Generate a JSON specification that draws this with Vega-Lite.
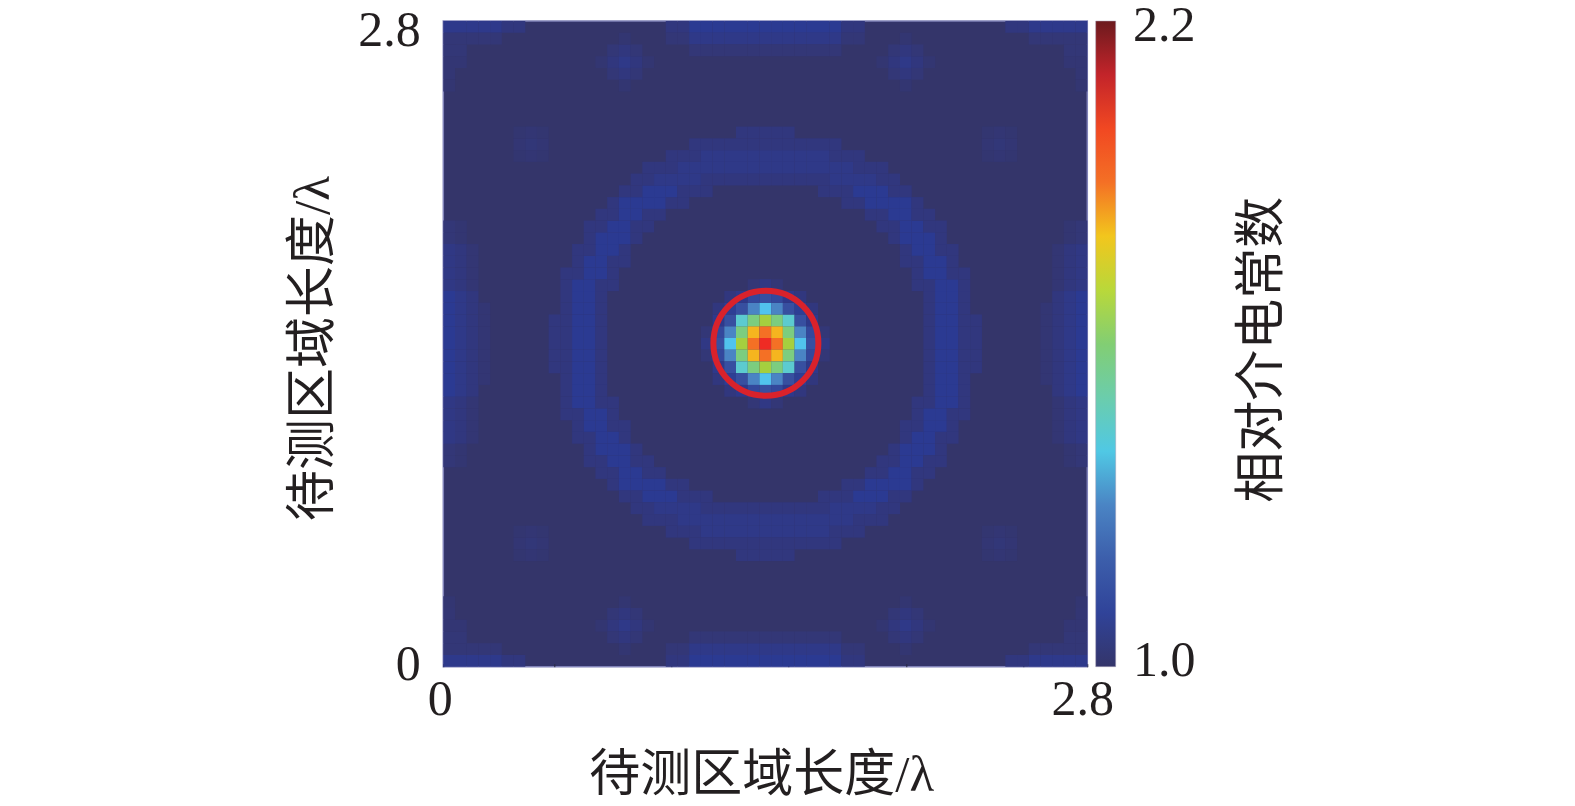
{"$schema":"https://vega.github.io/schema/vega-lite/v6.json","width":644,"height":645.7,"autosize":"none","padding":{"left":443.3,"top":21,"right":487.7,"bottom":139.3},"background":"white","view":{"fill":"#34356a","stroke":"#8082b8","strokeWidth":1.5},
"layer":[
{"data":{"values":[
{"c":9,"r":27,"v":1.03},{"c":10,"r":27,"v":1.03},{"c":11,"r":27,"v":1.06},{"c":12,"r":27,"v":1.06},{"c":13,"r":27,"v":1.03},{"c":41,"r":27,"v":1.03},{"c":42,"r":27,"v":1.06},{"c":43,"r":27,"v":1.06},{"c":44,"r":27,"v":1.03},{"c":45,"r":27,"v":1.03},
{"c":9,"r":26,"v":1.03},{"c":10,"r":26,"v":1.03},{"c":11,"r":26,"v":1.06},{"c":12,"r":26,"v":1.06},{"c":13,"r":26,"v":1.03},{"c":41,"r":26,"v":1.03},{"c":42,"r":26,"v":1.06},{"c":43,"r":26,"v":1.06},{"c":44,"r":26,"v":1.03},{"c":45,"r":26,"v":1.03},
{"c":9,"r":28,"v":1.03},{"c":10,"r":28,"v":1.03},{"c":11,"r":28,"v":1.06},{"c":12,"r":28,"v":1.06},{"c":13,"r":28,"v":1.03},{"c":41,"r":28,"v":1.03},{"c":42,"r":28,"v":1.06},{"c":43,"r":28,"v":1.06},{"c":44,"r":28,"v":1.03},{"c":45,"r":28,"v":1.03},
{"c":9,"r":25,"v":1.03},{"c":10,"r":25,"v":1.03},{"c":11,"r":25,"v":1.06},{"c":12,"r":25,"v":1.06},{"c":13,"r":25,"v":1.03},{"c":41,"r":25,"v":1.03},{"c":42,"r":25,"v":1.06},{"c":43,"r":25,"v":1.06},{"c":44,"r":25,"v":1.03},{"c":45,"r":25,"v":1.03},
{"c":9,"r":29,"v":1.03},{"c":10,"r":29,"v":1.03},{"c":11,"r":29,"v":1.06},{"c":12,"r":29,"v":1.06},{"c":13,"r":29,"v":1.03},{"c":41,"r":29,"v":1.03},{"c":42,"r":29,"v":1.06},{"c":43,"r":29,"v":1.06},{"c":44,"r":29,"v":1.03},{"c":45,"r":29,"v":1.03},
{"c":10,"r":24,"v":1.03},{"c":11,"r":24,"v":1.06},{"c":12,"r":24,"v":1.06},{"c":13,"r":24,"v":1.03},{"c":41,"r":24,"v":1.03},{"c":42,"r":24,"v":1.06},{"c":43,"r":24,"v":1.06},{"c":44,"r":24,"v":1.03},
{"c":10,"r":30,"v":1.03},{"c":11,"r":30,"v":1.06},{"c":12,"r":30,"v":1.06},{"c":13,"r":30,"v":1.03},{"c":41,"r":30,"v":1.03},{"c":42,"r":30,"v":1.06},{"c":43,"r":30,"v":1.06},{"c":44,"r":30,"v":1.03},
{"c":10,"r":23,"v":1.03},{"c":11,"r":23,"v":1.06},{"c":12,"r":23,"v":1.06},{"c":13,"r":23,"v":1.03},{"c":41,"r":23,"v":1.03},{"c":42,"r":23,"v":1.06},{"c":43,"r":23,"v":1.06},{"c":44,"r":23,"v":1.03},
{"c":10,"r":31,"v":1.03},{"c":11,"r":31,"v":1.06},{"c":12,"r":31,"v":1.06},{"c":13,"r":31,"v":1.03},{"c":41,"r":31,"v":1.03},{"c":42,"r":31,"v":1.06},{"c":43,"r":31,"v":1.06},{"c":44,"r":31,"v":1.03},
{"c":10,"r":22,"v":1.03},{"c":11,"r":22,"v":1.06},{"c":12,"r":22,"v":1.06},{"c":13,"r":22,"v":1.03},{"c":14,"r":22,"v":1.03},{"c":40,"r":22,"v":1.03},{"c":41,"r":22,"v":1.03},{"c":42,"r":22,"v":1.06},{"c":43,"r":22,"v":1.06},{"c":44,"r":22,"v":1.03},
{"c":10,"r":32,"v":1.03},{"c":11,"r":32,"v":1.06},{"c":12,"r":32,"v":1.06},{"c":13,"r":32,"v":1.03},{"c":14,"r":32,"v":1.03},{"c":40,"r":32,"v":1.03},{"c":41,"r":32,"v":1.03},{"c":42,"r":32,"v":1.06},{"c":43,"r":32,"v":1.06},{"c":44,"r":32,"v":1.03},
{"c":10,"r":21,"v":1.03},{"c":11,"r":21,"v":1.03},{"c":12,"r":21,"v":1.06},{"c":13,"r":21,"v":1.06},{"c":14,"r":21,"v":1.03},{"c":40,"r":21,"v":1.03},{"c":41,"r":21,"v":1.06},{"c":42,"r":21,"v":1.06},{"c":43,"r":21,"v":1.03},{"c":44,"r":21,"v":1.03},
{"c":10,"r":33,"v":1.03},{"c":11,"r":33,"v":1.03},{"c":12,"r":33,"v":1.06},{"c":13,"r":33,"v":1.06},{"c":14,"r":33,"v":1.03},{"c":40,"r":33,"v":1.03},{"c":41,"r":33,"v":1.06},{"c":42,"r":33,"v":1.06},{"c":43,"r":33,"v":1.03},{"c":44,"r":33,"v":1.03},
{"c":11,"r":20,"v":1.03},{"c":12,"r":20,"v":1.06},{"c":13,"r":20,"v":1.06},{"c":14,"r":20,"v":1.03},{"c":15,"r":20,"v":1.03},{"c":39,"r":20,"v":1.03},{"c":40,"r":20,"v":1.03},{"c":41,"r":20,"v":1.06},{"c":42,"r":20,"v":1.06},{"c":43,"r":20,"v":1.03},
{"c":11,"r":34,"v":1.03},{"c":12,"r":34,"v":1.06},{"c":13,"r":34,"v":1.06},{"c":14,"r":34,"v":1.03},{"c":15,"r":34,"v":1.03},{"c":39,"r":34,"v":1.03},{"c":40,"r":34,"v":1.03},{"c":41,"r":34,"v":1.06},{"c":42,"r":34,"v":1.06},{"c":43,"r":34,"v":1.03},
{"c":11,"r":19,"v":1.03},{"c":12,"r":19,"v":1.03},{"c":13,"r":19,"v":1.06},{"c":14,"r":19,"v":1.06},{"c":15,"r":19,"v":1.03},{"c":39,"r":19,"v":1.03},{"c":40,"r":19,"v":1.06},{"c":41,"r":19,"v":1.06},{"c":42,"r":19,"v":1.03},{"c":43,"r":19,"v":1.03},
{"c":11,"r":35,"v":1.03},{"c":12,"r":35,"v":1.03},{"c":13,"r":35,"v":1.06},{"c":14,"r":35,"v":1.06},{"c":15,"r":35,"v":1.03},{"c":39,"r":35,"v":1.03},{"c":40,"r":35,"v":1.06},{"c":41,"r":35,"v":1.06},{"c":42,"r":35,"v":1.03},{"c":43,"r":35,"v":1.03},
{"c":12,"r":18,"v":1.03},{"c":13,"r":18,"v":1.06},{"c":14,"r":18,"v":1.06},{"c":15,"r":18,"v":1.06},{"c":16,"r":18,"v":1.03},{"c":38,"r":18,"v":1.03},{"c":39,"r":18,"v":1.06},{"c":40,"r":18,"v":1.06},{"c":41,"r":18,"v":1.06},{"c":42,"r":18,"v":1.03},
{"c":12,"r":36,"v":1.03},{"c":13,"r":36,"v":1.06},{"c":14,"r":36,"v":1.06},{"c":15,"r":36,"v":1.06},{"c":16,"r":36,"v":1.03},{"c":38,"r":36,"v":1.03},{"c":39,"r":36,"v":1.06},{"c":40,"r":36,"v":1.06},{"c":41,"r":36,"v":1.06},{"c":42,"r":36,"v":1.03},
{"c":12,"r":17,"v":1.03},{"c":13,"r":17,"v":1.03},{"c":14,"r":17,"v":1.06},{"c":15,"r":17,"v":1.06},{"c":16,"r":17,"v":1.03},{"c":17,"r":17,"v":1.03},{"c":37,"r":17,"v":1.03},{"c":38,"r":17,"v":1.03},{"c":39,"r":17,"v":1.06},{"c":40,"r":17,"v":1.06},{"c":41,"r":17,"v":1.03},{"c":42,"r":17,"v":1.03},
{"c":12,"r":37,"v":1.03},{"c":13,"r":37,"v":1.03},{"c":14,"r":37,"v":1.06},{"c":15,"r":37,"v":1.06},{"c":16,"r":37,"v":1.03},{"c":17,"r":37,"v":1.03},{"c":37,"r":37,"v":1.03},{"c":38,"r":37,"v":1.03},{"c":39,"r":37,"v":1.06},{"c":40,"r":37,"v":1.06},{"c":41,"r":37,"v":1.03},{"c":42,"r":37,"v":1.03},
{"c":13,"r":16,"v":1.03},{"c":14,"r":16,"v":1.03},{"c":15,"r":16,"v":1.06},{"c":16,"r":16,"v":1.06},{"c":17,"r":16,"v":1.03},{"c":18,"r":16,"v":1.03},{"c":36,"r":16,"v":1.03},{"c":37,"r":16,"v":1.03},{"c":38,"r":16,"v":1.06},{"c":39,"r":16,"v":1.06},{"c":40,"r":16,"v":1.03},{"c":41,"r":16,"v":1.03},
{"c":13,"r":38,"v":1.03},{"c":14,"r":38,"v":1.03},{"c":15,"r":38,"v":1.06},{"c":16,"r":38,"v":1.06},{"c":17,"r":38,"v":1.03},{"c":18,"r":38,"v":1.03},{"c":36,"r":38,"v":1.03},{"c":37,"r":38,"v":1.03},{"c":38,"r":38,"v":1.06},{"c":39,"r":38,"v":1.06},{"c":40,"r":38,"v":1.03},{"c":41,"r":38,"v":1.03},
{"c":14,"r":15,"v":1.03},{"c":15,"r":15,"v":1.06},{"c":16,"r":15,"v":1.06},{"c":17,"r":15,"v":1.06},{"c":18,"r":15,"v":1.06},{"c":19,"r":15,"v":1.03},{"c":20,"r":15,"v":1.03},{"c":34,"r":15,"v":1.03},{"c":35,"r":15,"v":1.03},{"c":36,"r":15,"v":1.06},{"c":37,"r":15,"v":1.06},{"c":38,"r":15,"v":1.06},{"c":39,"r":15,"v":1.06},{"c":40,"r":15,"v":1.03},
{"c":14,"r":39,"v":1.03},{"c":15,"r":39,"v":1.06},{"c":16,"r":39,"v":1.06},{"c":17,"r":39,"v":1.06},{"c":18,"r":39,"v":1.06},{"c":19,"r":39,"v":1.03},{"c":20,"r":39,"v":1.03},{"c":34,"r":39,"v":1.03},{"c":35,"r":39,"v":1.03},{"c":36,"r":39,"v":1.06},{"c":37,"r":39,"v":1.06},{"c":38,"r":39,"v":1.06},{"c":39,"r":39,"v":1.06},{"c":40,"r":39,"v":1.03},
{"c":15,"r":14,"v":1.03},{"c":16,"r":14,"v":1.03},{"c":17,"r":14,"v":1.06},{"c":18,"r":14,"v":1.06},{"c":19,"r":14,"v":1.06},{"c":20,"r":14,"v":1.03},{"c":21,"r":14,"v":1.03},{"c":22,"r":14,"v":1.03},{"c":32,"r":14,"v":1.03},{"c":33,"r":14,"v":1.03},{"c":34,"r":14,"v":1.03},{"c":35,"r":14,"v":1.06},{"c":36,"r":14,"v":1.06},{"c":37,"r":14,"v":1.06},{"c":38,"r":14,"v":1.03},{"c":39,"r":14,"v":1.03},
{"c":15,"r":40,"v":1.03},{"c":16,"r":40,"v":1.03},{"c":17,"r":40,"v":1.06},{"c":18,"r":40,"v":1.06},{"c":19,"r":40,"v":1.06},{"c":20,"r":40,"v":1.03},{"c":21,"r":40,"v":1.03},{"c":22,"r":40,"v":1.03},{"c":32,"r":40,"v":1.03},{"c":33,"r":40,"v":1.03},{"c":34,"r":40,"v":1.03},{"c":35,"r":40,"v":1.06},{"c":36,"r":40,"v":1.06},{"c":37,"r":40,"v":1.06},{"c":38,"r":40,"v":1.03},{"c":39,"r":40,"v":1.03},
{"c":16,"r":13,"v":1.03},{"c":17,"r":13,"v":1.03},{"c":18,"r":13,"v":1.045},{"c":19,"r":13,"v":1.045},{"c":20,"r":13,"v":1.045},{"c":21,"r":13,"v":1.045},{"c":22,"r":13,"v":1.03},{"c":23,"r":13,"v":1.03},{"c":24,"r":13,"v":1.03},{"c":25,"r":13,"v":1.03},{"c":26,"r":13,"v":1.03},{"c":27,"r":13,"v":1.03},{"c":28,"r":13,"v":1.03},{"c":29,"r":13,"v":1.03},{"c":30,"r":13,"v":1.03},{"c":31,"r":13,"v":1.03},{"c":32,"r":13,"v":1.03},{"c":33,"r":13,"v":1.045},{"c":34,"r":13,"v":1.045},{"c":35,"r":13,"v":1.045},{"c":36,"r":13,"v":1.045},{"c":37,"r":13,"v":1.03},{"c":38,"r":13,"v":1.03},
{"c":16,"r":41,"v":1.03},{"c":17,"r":41,"v":1.03},{"c":18,"r":41,"v":1.045},{"c":19,"r":41,"v":1.045},{"c":20,"r":41,"v":1.045},{"c":21,"r":41,"v":1.045},{"c":22,"r":41,"v":1.03},{"c":23,"r":41,"v":1.03},{"c":24,"r":41,"v":1.03},{"c":25,"r":41,"v":1.03},{"c":26,"r":41,"v":1.03},{"c":27,"r":41,"v":1.03},{"c":28,"r":41,"v":1.03},{"c":29,"r":41,"v":1.03},{"c":30,"r":41,"v":1.03},{"c":31,"r":41,"v":1.03},{"c":32,"r":41,"v":1.03},{"c":33,"r":41,"v":1.045},{"c":34,"r":41,"v":1.045},{"c":35,"r":41,"v":1.045},{"c":36,"r":41,"v":1.045},{"c":37,"r":41,"v":1.03},{"c":38,"r":41,"v":1.03},
{"c":17,"r":12,"v":1.03},{"c":18,"r":12,"v":1.03},{"c":19,"r":12,"v":1.03},{"c":20,"r":12,"v":1.045},{"c":21,"r":12,"v":1.045},{"c":22,"r":12,"v":1.045},{"c":23,"r":12,"v":1.045},{"c":24,"r":12,"v":1.045},{"c":25,"r":12,"v":1.045},{"c":26,"r":12,"v":1.045},{"c":27,"r":12,"v":1.045},{"c":28,"r":12,"v":1.045},{"c":29,"r":12,"v":1.045},{"c":30,"r":12,"v":1.045},{"c":31,"r":12,"v":1.045},{"c":32,"r":12,"v":1.045},{"c":33,"r":12,"v":1.045},{"c":34,"r":12,"v":1.045},{"c":35,"r":12,"v":1.03},{"c":36,"r":12,"v":1.03},{"c":37,"r":12,"v":1.03},
{"c":17,"r":42,"v":1.03},{"c":18,"r":42,"v":1.03},{"c":19,"r":42,"v":1.03},{"c":20,"r":42,"v":1.045},{"c":21,"r":42,"v":1.045},{"c":22,"r":42,"v":1.045},{"c":23,"r":42,"v":1.045},{"c":24,"r":42,"v":1.045},{"c":25,"r":42,"v":1.045},{"c":26,"r":42,"v":1.045},{"c":27,"r":42,"v":1.045},{"c":28,"r":42,"v":1.045},{"c":29,"r":42,"v":1.045},{"c":30,"r":42,"v":1.045},{"c":31,"r":42,"v":1.045},{"c":32,"r":42,"v":1.045},{"c":33,"r":42,"v":1.045},{"c":34,"r":42,"v":1.045},{"c":35,"r":42,"v":1.03},{"c":36,"r":42,"v":1.03},{"c":37,"r":42,"v":1.03},
{"c":19,"r":11,"v":1.03},{"c":20,"r":11,"v":1.03},{"c":21,"r":11,"v":1.03},{"c":22,"r":11,"v":1.045},{"c":23,"r":11,"v":1.045},{"c":24,"r":11,"v":1.045},{"c":25,"r":11,"v":1.045},{"c":26,"r":11,"v":1.045},{"c":27,"r":11,"v":1.045},{"c":28,"r":11,"v":1.045},{"c":29,"r":11,"v":1.045},{"c":30,"r":11,"v":1.045},{"c":31,"r":11,"v":1.045},{"c":32,"r":11,"v":1.045},{"c":33,"r":11,"v":1.03},{"c":34,"r":11,"v":1.03},{"c":35,"r":11,"v":1.03},
{"c":19,"r":43,"v":1.03},{"c":20,"r":43,"v":1.03},{"c":21,"r":43,"v":1.03},{"c":22,"r":43,"v":1.045},{"c":23,"r":43,"v":1.045},{"c":24,"r":43,"v":1.045},{"c":25,"r":43,"v":1.045},{"c":26,"r":43,"v":1.045},{"c":27,"r":43,"v":1.045},{"c":28,"r":43,"v":1.045},{"c":29,"r":43,"v":1.045},{"c":30,"r":43,"v":1.045},{"c":31,"r":43,"v":1.045},{"c":32,"r":43,"v":1.045},{"c":33,"r":43,"v":1.03},{"c":34,"r":43,"v":1.03},{"c":35,"r":43,"v":1.03},
{"c":21,"r":10,"v":1.03},{"c":22,"r":10,"v":1.03},{"c":23,"r":10,"v":1.03},{"c":24,"r":10,"v":1.03},{"c":25,"r":10,"v":1.03},{"c":26,"r":10,"v":1.03},{"c":27,"r":10,"v":1.03},{"c":28,"r":10,"v":1.03},{"c":29,"r":10,"v":1.03},{"c":30,"r":10,"v":1.03},{"c":31,"r":10,"v":1.03},{"c":32,"r":10,"v":1.03},{"c":33,"r":10,"v":1.03},
{"c":21,"r":44,"v":1.03},{"c":22,"r":44,"v":1.03},{"c":23,"r":44,"v":1.03},{"c":24,"r":44,"v":1.03},{"c":25,"r":44,"v":1.03},{"c":26,"r":44,"v":1.03},{"c":27,"r":44,"v":1.03},{"c":28,"r":44,"v":1.03},{"c":29,"r":44,"v":1.03},{"c":30,"r":44,"v":1.03},{"c":31,"r":44,"v":1.03},{"c":32,"r":44,"v":1.03},{"c":33,"r":44,"v":1.03},
{"c":25,"r":9,"v":1.03},{"c":26,"r":9,"v":1.03},{"c":27,"r":9,"v":1.03},{"c":28,"r":9,"v":1.03},{"c":29,"r":9,"v":1.03},
{"c":25,"r":45,"v":1.03},{"c":26,"r":45,"v":1.03},{"c":27,"r":45,"v":1.03},{"c":28,"r":45,"v":1.03},{"c":29,"r":45,"v":1.03},
{"c":19,"r":54,"v":1.03},{"c":20,"r":54,"v":1.03},{"c":21,"r":54,"v":1.06},{"c":22,"r":54,"v":1.06},{"c":23,"r":54,"v":1.06},{"c":24,"r":54,"v":1.06},{"c":25,"r":54,"v":1.06},{"c":26,"r":54,"v":1.06},{"c":27,"r":54,"v":1.06},{"c":28,"r":54,"v":1.06},{"c":29,"r":54,"v":1.06},{"c":30,"r":54,"v":1.06},{"c":31,"r":54,"v":1.06},{"c":32,"r":54,"v":1.06},{"c":33,"r":54,"v":1.06},{"c":34,"r":54,"v":1.03},{"c":35,"r":54,"v":1.03},
{"c":19,"r":53,"v":1.02},{"c":20,"r":53,"v":1.02},{"c":21,"r":53,"v":1.045},{"c":22,"r":53,"v":1.045},{"c":23,"r":53,"v":1.045},{"c":24,"r":53,"v":1.045},{"c":25,"r":53,"v":1.045},{"c":26,"r":53,"v":1.045},{"c":27,"r":53,"v":1.045},{"c":28,"r":53,"v":1.045},{"c":29,"r":53,"v":1.045},{"c":30,"r":53,"v":1.045},{"c":31,"r":53,"v":1.045},{"c":32,"r":53,"v":1.045},{"c":33,"r":53,"v":1.045},{"c":34,"r":53,"v":1.02},{"c":35,"r":53,"v":1.02},
{"c":21,"r":52,"v":1.02},{"c":22,"r":52,"v":1.02},{"c":23,"r":52,"v":1.02},{"c":24,"r":52,"v":1.02},{"c":25,"r":52,"v":1.02},{"c":26,"r":52,"v":1.02},{"c":27,"r":52,"v":1.02},{"c":28,"r":52,"v":1.02},{"c":29,"r":52,"v":1.02},{"c":30,"r":52,"v":1.02},{"c":31,"r":52,"v":1.02},{"c":32,"r":52,"v":1.02},{"c":33,"r":52,"v":1.02},
{"c":19,"r":0,"v":1.03},{"c":20,"r":0,"v":1.03},{"c":21,"r":0,"v":1.06},{"c":22,"r":0,"v":1.06},{"c":23,"r":0,"v":1.06},{"c":24,"r":0,"v":1.06},{"c":25,"r":0,"v":1.06},{"c":26,"r":0,"v":1.06},{"c":27,"r":0,"v":1.06},{"c":28,"r":0,"v":1.06},{"c":29,"r":0,"v":1.06},{"c":30,"r":0,"v":1.06},{"c":31,"r":0,"v":1.06},{"c":32,"r":0,"v":1.06},{"c":33,"r":0,"v":1.06},{"c":34,"r":0,"v":1.03},{"c":35,"r":0,"v":1.03},
{"c":19,"r":1,"v":1.02},{"c":20,"r":1,"v":1.02},{"c":21,"r":1,"v":1.045},{"c":22,"r":1,"v":1.045},{"c":23,"r":1,"v":1.045},{"c":24,"r":1,"v":1.045},{"c":25,"r":1,"v":1.045},{"c":26,"r":1,"v":1.045},{"c":27,"r":1,"v":1.045},{"c":28,"r":1,"v":1.045},{"c":29,"r":1,"v":1.045},{"c":30,"r":1,"v":1.045},{"c":31,"r":1,"v":1.045},{"c":32,"r":1,"v":1.045},{"c":33,"r":1,"v":1.045},{"c":34,"r":1,"v":1.02},{"c":35,"r":1,"v":1.02},
{"c":21,"r":2,"v":1.02},{"c":22,"r":2,"v":1.02},{"c":23,"r":2,"v":1.02},{"c":24,"r":2,"v":1.02},{"c":25,"r":2,"v":1.02},{"c":26,"r":2,"v":1.02},{"c":27,"r":2,"v":1.02},{"c":28,"r":2,"v":1.02},{"c":29,"r":2,"v":1.02},{"c":30,"r":2,"v":1.02},{"c":31,"r":2,"v":1.02},{"c":32,"r":2,"v":1.02},{"c":33,"r":2,"v":1.02},
{"c":0,"r":17,"v":1.02},{"c":0,"r":18,"v":1.02},{"c":0,"r":19,"v":1.04},{"c":0,"r":20,"v":1.04},{"c":0,"r":21,"v":1.04},{"c":0,"r":22,"v":1.04},{"c":0,"r":23,"v":1.06},{"c":0,"r":24,"v":1.06},{"c":0,"r":25,"v":1.06},{"c":0,"r":26,"v":1.06},{"c":0,"r":27,"v":1.06},{"c":0,"r":28,"v":1.06},{"c":0,"r":29,"v":1.06},{"c":0,"r":30,"v":1.06},{"c":0,"r":31,"v":1.06},{"c":0,"r":32,"v":1.04},{"c":0,"r":33,"v":1.04},{"c":0,"r":34,"v":1.04},{"c":0,"r":35,"v":1.04},{"c":0,"r":36,"v":1.02},{"c":0,"r":37,"v":1.02},
{"c":1,"r":17,"v":1.012},{"c":1,"r":18,"v":1.012},{"c":1,"r":19,"v":1.03},{"c":1,"r":20,"v":1.03},{"c":1,"r":21,"v":1.03},{"c":1,"r":22,"v":1.03},{"c":1,"r":23,"v":1.045},{"c":1,"r":24,"v":1.045},{"c":1,"r":25,"v":1.045},{"c":1,"r":26,"v":1.045},{"c":1,"r":27,"v":1.045},{"c":1,"r":28,"v":1.045},{"c":1,"r":29,"v":1.045},{"c":1,"r":30,"v":1.045},{"c":1,"r":31,"v":1.045},{"c":1,"r":32,"v":1.03},{"c":1,"r":33,"v":1.03},{"c":1,"r":34,"v":1.03},{"c":1,"r":35,"v":1.03},{"c":1,"r":36,"v":1.012},{"c":1,"r":37,"v":1.012},
{"c":2,"r":19,"v":1.015},{"c":2,"r":20,"v":1.015},{"c":2,"r":21,"v":1.015},{"c":2,"r":22,"v":1.015},{"c":2,"r":23,"v":1.03},{"c":2,"r":24,"v":1.03},{"c":2,"r":25,"v":1.03},{"c":2,"r":26,"v":1.03},{"c":2,"r":27,"v":1.03},{"c":2,"r":28,"v":1.03},{"c":2,"r":29,"v":1.03},{"c":2,"r":30,"v":1.03},{"c":2,"r":31,"v":1.03},{"c":2,"r":32,"v":1.015},{"c":2,"r":33,"v":1.015},{"c":2,"r":34,"v":1.015},{"c":2,"r":35,"v":1.015},
{"c":3,"r":24,"v":1.015},{"c":3,"r":25,"v":1.015},{"c":3,"r":26,"v":1.015},{"c":3,"r":27,"v":1.015},{"c":3,"r":28,"v":1.015},{"c":3,"r":29,"v":1.015},{"c":3,"r":30,"v":1.015},
{"c":54,"r":17,"v":1.02},{"c":54,"r":18,"v":1.02},{"c":54,"r":19,"v":1.04},{"c":54,"r":20,"v":1.04},{"c":54,"r":21,"v":1.04},{"c":54,"r":22,"v":1.04},{"c":54,"r":23,"v":1.06},{"c":54,"r":24,"v":1.06},{"c":54,"r":25,"v":1.06},{"c":54,"r":26,"v":1.06},{"c":54,"r":27,"v":1.06},{"c":54,"r":28,"v":1.06},{"c":54,"r":29,"v":1.06},{"c":54,"r":30,"v":1.06},{"c":54,"r":31,"v":1.06},{"c":54,"r":32,"v":1.04},{"c":54,"r":33,"v":1.04},{"c":54,"r":34,"v":1.04},{"c":54,"r":35,"v":1.04},{"c":54,"r":36,"v":1.02},{"c":54,"r":37,"v":1.02},
{"c":53,"r":17,"v":1.012},{"c":53,"r":18,"v":1.012},{"c":53,"r":19,"v":1.03},{"c":53,"r":20,"v":1.03},{"c":53,"r":21,"v":1.03},{"c":53,"r":22,"v":1.03},{"c":53,"r":23,"v":1.045},{"c":53,"r":24,"v":1.045},{"c":53,"r":25,"v":1.045},{"c":53,"r":26,"v":1.045},{"c":53,"r":27,"v":1.045},{"c":53,"r":28,"v":1.045},{"c":53,"r":29,"v":1.045},{"c":53,"r":30,"v":1.045},{"c":53,"r":31,"v":1.045},{"c":53,"r":32,"v":1.03},{"c":53,"r":33,"v":1.03},{"c":53,"r":34,"v":1.03},{"c":53,"r":35,"v":1.03},{"c":53,"r":36,"v":1.012},{"c":53,"r":37,"v":1.012},
{"c":52,"r":19,"v":1.015},{"c":52,"r":20,"v":1.015},{"c":52,"r":21,"v":1.015},{"c":52,"r":22,"v":1.015},{"c":52,"r":23,"v":1.03},{"c":52,"r":24,"v":1.03},{"c":52,"r":25,"v":1.03},{"c":52,"r":26,"v":1.03},{"c":52,"r":27,"v":1.03},{"c":52,"r":28,"v":1.03},{"c":52,"r":29,"v":1.03},{"c":52,"r":30,"v":1.03},{"c":52,"r":31,"v":1.03},{"c":52,"r":32,"v":1.015},{"c":52,"r":33,"v":1.015},{"c":52,"r":34,"v":1.015},{"c":52,"r":35,"v":1.015},
{"c":51,"r":24,"v":1.015},{"c":51,"r":25,"v":1.015},{"c":51,"r":26,"v":1.015},{"c":51,"r":27,"v":1.015},{"c":51,"r":28,"v":1.015},{"c":51,"r":29,"v":1.015},{"c":51,"r":30,"v":1.015},
{"c":0,"r":54,"v":1.05},{"c":1,"r":54,"v":1.05},{"c":2,"r":54,"v":1.05},{"c":3,"r":54,"v":1.05},{"c":4,"r":54,"v":1.05},{"c":5,"r":54,"v":1.03},{"c":6,"r":54,"v":1.03},{"c":0,"r":53,"v":1.02},{"c":1,"r":53,"v":1.02},{"c":2,"r":53,"v":1.02},{"c":3,"r":53,"v":1.02},{"c":4,"r":53,"v":1.02},{"c":0,"r":52,"v":1.02},{"c":1,"r":52,"v":1.02},{"c":0,"r":51,"v":1.015},{"c":1,"r":51,"v":1.015},{"c":0,"r":50,"v":1.015},{"c":0,"r":49,"v":1.012},
{"c":54,"r":54,"v":1.05},{"c":53,"r":54,"v":1.05},{"c":52,"r":54,"v":1.05},{"c":51,"r":54,"v":1.05},{"c":50,"r":54,"v":1.05},{"c":49,"r":54,"v":1.03},{"c":48,"r":54,"v":1.03},{"c":54,"r":53,"v":1.02},{"c":53,"r":53,"v":1.02},{"c":52,"r":53,"v":1.02},{"c":51,"r":53,"v":1.02},{"c":50,"r":53,"v":1.02},{"c":54,"r":52,"v":1.02},{"c":53,"r":52,"v":1.02},{"c":54,"r":51,"v":1.015},{"c":53,"r":51,"v":1.015},{"c":54,"r":50,"v":1.015},{"c":54,"r":49,"v":1.012},
{"c":0,"r":0,"v":1.05},{"c":1,"r":0,"v":1.05},{"c":2,"r":0,"v":1.05},{"c":3,"r":0,"v":1.05},{"c":4,"r":0,"v":1.05},{"c":5,"r":0,"v":1.03},{"c":6,"r":0,"v":1.03},{"c":0,"r":1,"v":1.02},{"c":1,"r":1,"v":1.02},{"c":2,"r":1,"v":1.02},{"c":3,"r":1,"v":1.02},{"c":4,"r":1,"v":1.02},{"c":0,"r":2,"v":1.02},{"c":1,"r":2,"v":1.02},{"c":0,"r":3,"v":1.015},{"c":1,"r":3,"v":1.015},{"c":0,"r":4,"v":1.015},{"c":0,"r":5,"v":1.012},
{"c":54,"r":0,"v":1.05},{"c":53,"r":0,"v":1.05},{"c":52,"r":0,"v":1.05},{"c":51,"r":0,"v":1.05},{"c":50,"r":0,"v":1.05},{"c":49,"r":0,"v":1.03},{"c":48,"r":0,"v":1.03},{"c":54,"r":1,"v":1.02},{"c":53,"r":1,"v":1.02},{"c":52,"r":1,"v":1.02},{"c":51,"r":1,"v":1.02},{"c":50,"r":1,"v":1.02},{"c":54,"r":2,"v":1.02},{"c":53,"r":2,"v":1.02},{"c":54,"r":3,"v":1.015},{"c":53,"r":3,"v":1.015},{"c":54,"r":4,"v":1.015},{"c":54,"r":5,"v":1.012},
{"c":15,"r":51,"v":1.045},{"c":14,"r":51,"v":1.03},{"c":16,"r":51,"v":1.03},{"c":15,"r":50,"v":1.03},{"c":15,"r":52,"v":1.03},{"c":14,"r":50,"v":1.02},{"c":16,"r":50,"v":1.02},{"c":14,"r":52,"v":1.02},{"c":16,"r":52,"v":1.02},{"c":13,"r":51,"v":1.012},{"c":17,"r":51,"v":1.012},{"c":15,"r":49,"v":1.012},{"c":15,"r":53,"v":1.012},
{"c":39,"r":51,"v":1.045},{"c":38,"r":51,"v":1.03},{"c":40,"r":51,"v":1.03},{"c":39,"r":50,"v":1.03},{"c":39,"r":52,"v":1.03},{"c":38,"r":50,"v":1.02},{"c":40,"r":50,"v":1.02},{"c":38,"r":52,"v":1.02},{"c":40,"r":52,"v":1.02},{"c":37,"r":51,"v":1.012},{"c":41,"r":51,"v":1.012},{"c":39,"r":49,"v":1.012},{"c":39,"r":53,"v":1.012},
{"c":15,"r":3,"v":1.045},{"c":14,"r":3,"v":1.03},{"c":16,"r":3,"v":1.03},{"c":15,"r":2,"v":1.03},{"c":15,"r":4,"v":1.03},{"c":14,"r":2,"v":1.02},{"c":16,"r":2,"v":1.02},{"c":14,"r":4,"v":1.02},{"c":16,"r":4,"v":1.02},{"c":13,"r":3,"v":1.012},{"c":17,"r":3,"v":1.012},{"c":15,"r":1,"v":1.012},{"c":15,"r":5,"v":1.012},
{"c":39,"r":3,"v":1.045},{"c":38,"r":3,"v":1.03},{"c":40,"r":3,"v":1.03},{"c":39,"r":2,"v":1.03},{"c":39,"r":4,"v":1.03},{"c":38,"r":2,"v":1.02},{"c":40,"r":2,"v":1.02},{"c":38,"r":4,"v":1.02},{"c":40,"r":4,"v":1.02},{"c":37,"r":3,"v":1.012},{"c":41,"r":3,"v":1.012},{"c":39,"r":1,"v":1.012},{"c":39,"r":5,"v":1.012},
{"c":7,"r":44,"v":1.022},{"c":6,"r":44,"v":1.015},{"c":8,"r":44,"v":1.015},{"c":7,"r":43,"v":1.015},{"c":7,"r":45,"v":1.015},{"c":6,"r":43,"v":1.01},{"c":8,"r":43,"v":1.01},{"c":6,"r":45,"v":1.01},{"c":8,"r":45,"v":1.01},
{"c":47,"r":44,"v":1.022},{"c":46,"r":44,"v":1.015},{"c":48,"r":44,"v":1.015},{"c":47,"r":43,"v":1.015},{"c":47,"r":45,"v":1.015},{"c":46,"r":43,"v":1.01},{"c":48,"r":43,"v":1.01},{"c":46,"r":45,"v":1.01},{"c":48,"r":45,"v":1.01},
{"c":7,"r":10,"v":1.022},{"c":6,"r":10,"v":1.015},{"c":8,"r":10,"v":1.015},{"c":7,"r":9,"v":1.015},{"c":7,"r":11,"v":1.015},{"c":6,"r":9,"v":1.01},{"c":8,"r":9,"v":1.01},{"c":6,"r":11,"v":1.01},{"c":8,"r":11,"v":1.01},
{"c":47,"r":10,"v":1.022},{"c":46,"r":10,"v":1.015},{"c":48,"r":10,"v":1.015},{"c":47,"r":9,"v":1.015},{"c":47,"r":11,"v":1.015},{"c":46,"r":9,"v":1.01},{"c":48,"r":9,"v":1.01},{"c":46,"r":11,"v":1.01},{"c":48,"r":11,"v":1.01},
{"c":22,"r":27,"v":1.04},{"c":23,"r":27,"v":1.15},{"c":24,"r":27,"v":1.38},{"c":25,"r":27,"v":1.67},{"c":26,"r":27,"v":1.9},{"c":27,"r":27,"v":2.05},{"c":28,"r":27,"v":1.9},{"c":29,"r":27,"v":1.67},{"c":30,"r":27,"v":1.38},{"c":31,"r":27,"v":1.15},{"c":32,"r":27,"v":1.04},
{"c":22,"r":26,"v":1.02},{"c":23,"r":26,"v":1.12},{"c":24,"r":26,"v":1.3},{"c":25,"r":26,"v":1.58},{"c":26,"r":26,"v":1.82},{"c":27,"r":26,"v":1.9},{"c":28,"r":26,"v":1.82},{"c":29,"r":26,"v":1.58},{"c":30,"r":26,"v":1.3},{"c":31,"r":26,"v":1.12},{"c":32,"r":26,"v":1.02},
{"c":22,"r":28,"v":1.02},{"c":23,"r":28,"v":1.12},{"c":24,"r":28,"v":1.3},{"c":25,"r":28,"v":1.58},{"c":26,"r":28,"v":1.82},{"c":27,"r":28,"v":1.9},{"c":28,"r":28,"v":1.82},{"c":29,"r":28,"v":1.58},{"c":30,"r":28,"v":1.3},{"c":31,"r":28,"v":1.12},{"c":32,"r":28,"v":1.02},
{"c":23,"r":25,"v":1.05},{"c":24,"r":25,"v":1.15},{"c":25,"r":25,"v":1.43},{"c":26,"r":25,"v":1.58},{"c":27,"r":25,"v":1.67},{"c":28,"r":25,"v":1.58},{"c":29,"r":25,"v":1.43},{"c":30,"r":25,"v":1.15},{"c":31,"r":25,"v":1.05},
{"c":23,"r":29,"v":1.05},{"c":24,"r":29,"v":1.15},{"c":25,"r":29,"v":1.43},{"c":26,"r":29,"v":1.58},{"c":27,"r":29,"v":1.67},{"c":28,"r":29,"v":1.58},{"c":29,"r":29,"v":1.43},{"c":30,"r":29,"v":1.15},{"c":31,"r":29,"v":1.05},
{"c":23,"r":24,"v":1.03},{"c":24,"r":24,"v":1.08},{"c":25,"r":24,"v":1.15},{"c":26,"r":24,"v":1.3},{"c":27,"r":24,"v":1.38},{"c":28,"r":24,"v":1.3},{"c":29,"r":24,"v":1.15},{"c":30,"r":24,"v":1.08},{"c":31,"r":24,"v":1.03},
{"c":23,"r":30,"v":1.03},{"c":24,"r":30,"v":1.08},{"c":25,"r":30,"v":1.15},{"c":26,"r":30,"v":1.3},{"c":27,"r":30,"v":1.38},{"c":28,"r":30,"v":1.3},{"c":29,"r":30,"v":1.15},{"c":30,"r":30,"v":1.08},{"c":31,"r":30,"v":1.03},
{"c":24,"r":23,"v":1.03},{"c":25,"r":23,"v":1.05},{"c":26,"r":23,"v":1.12},{"c":27,"r":23,"v":1.15},{"c":28,"r":23,"v":1.12},{"c":29,"r":23,"v":1.05},{"c":30,"r":23,"v":1.03},
{"c":24,"r":31,"v":1.03},{"c":25,"r":31,"v":1.05},{"c":26,"r":31,"v":1.12},{"c":27,"r":31,"v":1.15},{"c":28,"r":31,"v":1.12},{"c":29,"r":31,"v":1.05},{"c":30,"r":31,"v":1.03},
{"c":26,"r":22,"v":1.02},{"c":27,"r":22,"v":1.04},{"c":28,"r":22,"v":1.02},{"c":26,"r":32,"v":1.02},{"c":27,"r":32,"v":1.04},{"c":28,"r":32,"v":1.02}
]},
"mark":{"type":"rect","width":11.75,"height":11.8},
"encoding":{"x":{"field":"c","type":"quantitative","scale":{"domain":[-0.5,54.5],"nice":false,"zero":false},"axis":{"values":[-0.5,9,19,29,39,49,54.5],"labelExpr":"datum.value<0?'0':(datum.value>54?'2.8':'')","labelFont":"Liberation Serif","labelFontSize":50,"labelColor":"#231f20","labelAngle":0,"labelAlign":"center","labelBaseline":"top","labelPadding":11,"labelFlush":false,"labelOverlap":false,"labelOffset":{"condition":{"test":"datum.value>54","value":-5},"value":-3.5},"grid":false,"domain":false,"tickSize":-3,"tickColor":"#2a2a40","tickWidth":1,"title":"待测区域长度/λ","titleFont":"Liberation Serif, Noto Sans CJK SC","titleFontSize":51,"titleFontWeight":"normal","titleColor":"#231f20","titleX":318,"titleY":124,"titleBaseline":"alphabetic","titleAlign":"center","titleAnchor":"middle"}},
"y":{"field":"r","type":"quantitative","scale":{"domain":[-0.5,54.5],"nice":false,"zero":false},"axis":{"values":[-0.5,54.5],"labelExpr":"datum.value<0?'0':'2.8'","labelFont":"Liberation Serif","labelFontSize":50,"labelColor":"#231f20","labelBaseline":"middle","labelPadding":23,"labelFlush":false,"labelOverlap":false,"labelOffset":{"condition":{"test":"datum.value>54","value":9.5},"value":-2},"grid":false,"domain":false,"ticks":false,"title":"待测区域长度/λ","titleFont":"Liberation Serif, Noto Sans CJK SC","titleFontSize":51,"titleFontWeight":"normal","titleColor":"#231f20","titleX":-115,"titleY":327,"titleAngle":270,"titleBaseline":"alphabetic","titleAlign":"center","titleAnchor":"middle"}},
"color":{"field":"v","type":"quantitative","scale":{"domain":[1,1.06,1.173,1.294,1.383,1.456,1.56,1.67,1.758,1.835,1.9,2.06,2.125,2.2],"range":["#34356a","#2b3a92","#3a54a4","#4a7fc0","#52c5ee","#6fcdc0","#78cb8a","#a5cf3f","#e3e92e","#f7a823","#f47025","#ee2324","#a8252b","#6c1a1e"]},"legend":{"orient":"none","legendX":652.4,"legendY":0,"title":null,"type":"gradient","gradientLength":645.7,"gradientThickness":20,"values":[1,2.2],"labelExpr":"''","labelFontSize":1,"labelOverlap":false,"padding":0,"gradientStrokeWidth":0.5,"gradientStrokeColor":"#a9a3b8"}}}},
{"data":{"values":[{"c":27.05,"r":27.05}]},"mark":{"type":"point","filled":false,"size":11025,"stroke":"#d9222b","strokeWidth":6,"opacity":1},"encoding":{"x":{"field":"c","type":"quantitative"},"y":{"field":"r","type":"quantitative"}}},
{"data":{"values":[{"c":58.4,"r":54.05,"label":"2.2"},{"c":58.4,"r":-0.01,"label":"1.0"}]},"mark":{"type":"text","align":"left","baseline":"middle","font":"Liberation Serif","fontSize":50,"color":"#231f20"},"encoding":{"x":{"field":"c","type":"quantitative"},"y":{"field":"r","type":"quantitative"},"text":{"field":"label"}}},
{"data":{"values":[{"c":70.76,"r":26.5,"label":"相对介电常数"}]},"mark":{"type":"text","angle":270,"align":"center","baseline":"alphabetic","font":"Liberation Serif, Noto Sans CJK SC","fontSize":51,"color":"#231f20"},"encoding":{"x":{"field":"c","type":"quantitative"},"y":{"field":"r","type":"quantitative"},"text":{"field":"label"}}}
]}
